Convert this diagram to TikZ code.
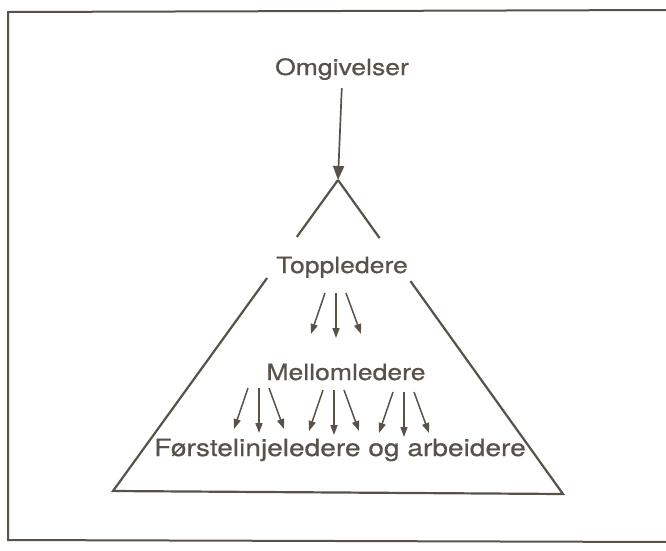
\documentclass[tikz,border=0pt]{standalone}
\usepackage{fontspec}
\setmainfont{TeX Gyre Heros}[FakeStretch=1.18, FakeBold=0.6]
\usepackage{tikz}
\usetikzlibrary{arrows.meta, calc, positioning}

\definecolor{inkclr}{RGB}{88,82,74}

\tikzset{
	lbl/.style={text=inkclr, font=\fontsize{22.5}{27}\selectfont, anchor=base, inner sep=2pt},
	frameline/.style={draw=inkclr, line width=2pt},
	triline/.style={draw=inkclr, line width=2.2pt, line join=miter},
	mainarrow/.style={draw=inkclr, line width=1.7pt, -{Triangle[length=14pt,width=11pt]}},
	fanarrow/.style={draw=inkclr, line width=1.5pt, -{Triangle[length=10pt,width=7pt]}}
}

\begin{document}
\begin{tikzpicture}[x=1pt, y=-1pt]
		\useasboundingbox (0,0) rectangle (666,550);
		
		% ramme
		\draw[frameline] (670,10) -- (8,12) -- (8,540) -- (670,542);
		
		% tekster
		\node[lbl] (omg) at (342,75) {Omgivelser};
		\node[lbl] (top) at (342,273) {Toppledere};
		\node[lbl] (mid) at (346,380) {Mellomledere};
		\node[lbl, font=\fontsize{23.8}{28}\selectfont] (bot) at (340,456) {Førstelinjeledere og arbeidere};
		
		% trekant med luke for toppledere
		\coordinate (apex) at (338,180);
		\coordinate (bl) at (113,491);
		\coordinate (br) at (563,494);
		\draw[triline] (apex) -- ($(apex)!0.183!(bl)$);
		\draw[triline] (apex) -- ($(apex)!0.185!(br)$);
		\draw[triline] ($(apex)!0.315!(bl)$) -- (bl) -- (br) -- ($(apex)!0.322!(br)$);
		
		% pil fra omgivelsene
		\draw[mainarrow, shorten <=6pt] (omg.south) -- (apex);
		
		% viftepiler nedover
		\coordinate (f0) at (336,293);
		\coordinate (f1) at (259,388);
		\coordinate (f2) at (334,390);
		\coordinate (f3) at (404,392);
		\foreach \c in {f0,f1,f2,f3} {
			\draw[fanarrow] ($(\c)+(-11,0)$) -- ($(\c)+(-25,41)$);
			\draw[fanarrow] (\c) -- ($(\c)+(0,45)$);
			\draw[fanarrow] ($(\c)+(10,0)$) -- ($(\c)+(25,41)$);
		}
	\end{tikzpicture}
\end{document}
